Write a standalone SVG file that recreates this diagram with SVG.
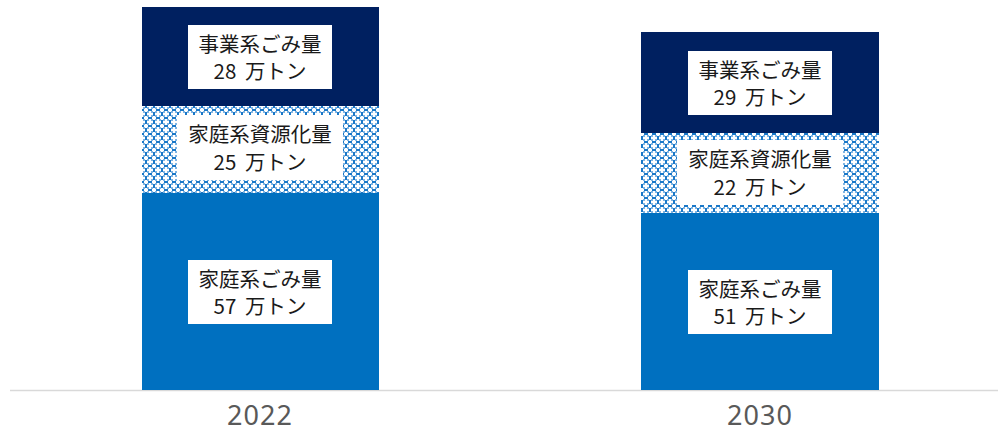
<svg xmlns="http://www.w3.org/2000/svg" width="998" height="432" viewBox="0 0 998 432">
<defs>
<pattern id="dots" x="142" y="106" width="8" height="8" patternUnits="userSpaceOnUse">
<rect width="8" height="8" fill="#ffffff"/>
<rect x="3" y="0" width="2" height="2" fill="#1a78c8"/>
<rect x="0" y="3" width="2" height="2" fill="#1a78c8"/>
<rect x="6" y="3" width="2" height="2" fill="#1a78c8"/>
<rect x="3" y="6" width="2" height="2" fill="#1a78c8"/>
<rect x="1" y="1" width="2" height="2" fill="#7fb4e2"/>
<rect x="5" y="1" width="2" height="2" fill="#7fb4e2"/>
<rect x="1" y="5" width="2" height="2" fill="#7fb4e2"/>
<rect x="5" y="5" width="2" height="2" fill="#7fb4e2"/>
</pattern>
<style>
.navy{fill:#002060}
.blue{fill:#0070c0}
.pat{fill:url(#dots)}
.box{fill:#ffffff}
.lbl{font-family:"Noto Sans CJK JP","Noto Sans",sans-serif;font-size:20.5px;fill:#1a1a1a;text-anchor:middle;word-spacing:4px}
.ax{font-family:"Noto Sans","DejaVu Sans",sans-serif;font-size:27px;fill:#595959;text-anchor:middle;letter-spacing:1px}
</style>
</defs>
<g id="axis">
<line x1="10" y1="390.5" x2="998" y2="390.5" stroke="#d9d9d9" stroke-width="1.5"/>
<text class="ax" x="260" y="425">2022</text>
<text class="ax" x="760" y="425">2030</text>
</g>
<g id="bar2022">
<g id="b2022-biz">
<rect class="navy" x="142" y="7" width="237" height="99"/>
<rect class="box" x="188" y="25" width="144" height="64"/>
<text class="lbl" x="260" y="52">事業系ごみ量</text>
<text class="lbl" x="260" y="79">28 万トン</text>
</g>
<g id="b2022-res">
<rect class="pat" x="142" y="106" width="237" height="87"/>
<rect class="box" x="177" y="115" width="166" height="65"/>
<text class="lbl" x="260" y="142">家庭系資源化量</text>
<text class="lbl" x="260" y="170">25 万トン</text>
</g>
<g id="b2022-home">
<rect class="blue" x="142" y="193" width="237" height="197"/>
<rect class="box" x="188" y="260" width="144" height="64"/>
<text class="lbl" x="260" y="287">家庭系ごみ量</text>
<text class="lbl" x="260" y="314">57 万トン</text>
</g>
</g>
<g id="bar2030">
<g id="b2030-biz">
<rect class="navy" x="641" y="32" width="238" height="101"/>
<rect class="box" x="688" y="51" width="144" height="64"/>
<text class="lbl" x="760" y="78">事業系ごみ量</text>
<text class="lbl" x="760" y="105">29 万トン</text>
</g>
<g id="b2030-res">
<rect class="pat" x="641" y="133" width="238" height="80"/>
<rect class="box" x="677" y="140" width="166" height="65"/>
<text class="lbl" x="760" y="167">家庭系資源化量</text>
<text class="lbl" x="760" y="195">22 万トン</text>
</g>
<g id="b2030-home">
<rect class="blue" x="641" y="213" width="238" height="177"/>
<rect class="box" x="688" y="270" width="144" height="64"/>
<text class="lbl" x="760" y="297">家庭系ごみ量</text>
<text class="lbl" x="760" y="324">51 万トン</text>
</g>
</g>
</svg>
